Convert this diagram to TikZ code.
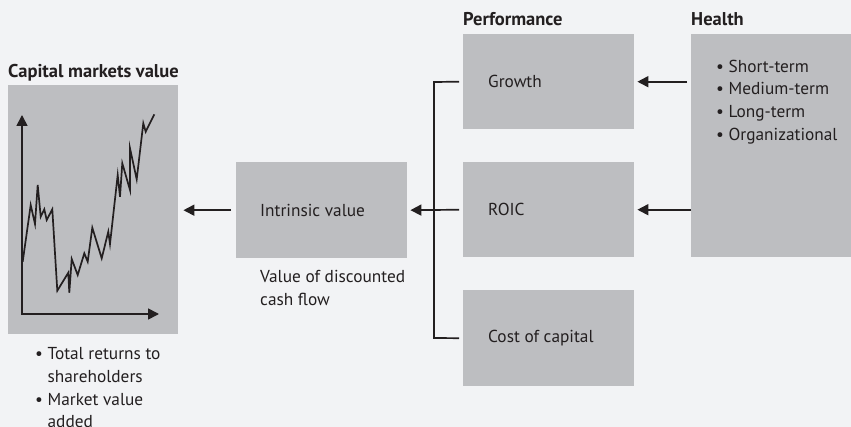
\documentclass[tikz,border=0pt]{standalone}
\usepackage{fontspec}
\setmainfont{PT Sans}
\usetikzlibrary{arrows.meta}
\definecolor{bgpaper}{HTML}{F2F3F5}
\definecolor{boxgray}{HTML}{BDBEC1}
\definecolor{inkdark}{HTML}{231F20}

\tikzset{
  box/.style={fill=boxgray, draw=none, anchor=north west, inner sep=0pt},
  boxtext/.style={anchor=west, inner sep=0pt, font=\fontsize{17.3}{22.7}\selectfont, text=inkdark},
  plain/.style={inner sep=0pt, font=\fontsize{17.3}{22.7}\selectfont, text=inkdark, align=left},
  heading/.style={anchor=base west, inner sep=0pt, font=\fontsize{18.5}{22}\selectfont\bfseries, text=inkdark},
  flow/.style={draw=inkdark, line width=1.7pt, -{Triangle[length=11pt,width=11pt]}},
}

\begin{document}
\begin{tikzpicture}[x=1pt, y=-1pt]
  \useasboundingbox[fill=bgpaper] (0,0) rectangle (851,427);
  % Boxes
  \node[box, minimum width=170pt, minimum height=249pt] (capital) at (8,85) {};
  \node[box, minimum width=171pt, minimum height=96pt] (intrinsic) at (236,162) {};
  \node[box, minimum width=171pt, minimum height=95pt] (growth) at (463,34) {};
  \node[box, minimum width=171pt, minimum height=95pt] (roic) at (463,162) {};
  \node[box, minimum width=171pt, minimum height=96pt] (cost) at (463,290) {};
  \node[box, minimum width=160pt, minimum height=223pt] (health) at (691,34) {};
  % Headings
  \node[heading] (capitalhead) at (8,78) {Capital markets value};
  \node[heading] (perfhead) at (463,26) {Performance};
  \node[heading] (healthhead) at (691,26) {Health};
  % Box texts
  \node[boxtext] (intrinsictext) at ([xshift=24pt]intrinsic.west) {Intrinsic value};
  \node[boxtext] (growthtext) at ([xshift=25pt]growth.west) {Growth};
  \node[boxtext] (roictext) at ([xshift=25pt]roic.west) {ROIC};
  \node[boxtext] (costtext) at ([xshift=25pt]cost.west) {Cost of capital};
  \node[plain, anchor=north west] (healthlist) at (716,59.5)
    {• Short-term\\• Medium-term\\• Long-term\\• Organizational};
  \node[plain, anchor=north west] (dcf) at (260,270.5)
    {Value of discounted\\cash flow};
  \node[plain, anchor=north west] (tsr) at (35,347.5)
    {• Total returns to\\\phantom{• }shareholders\\• Market value\\\phantom{• }added};
  % Arrows
  \draw[flow, shorten <=4pt, shorten >=3pt] (health.west |- growth.east) -- (growth.east);
  \draw[flow, shorten >=3pt] (health.west |- roic.east) -- (roic.east);
  \draw[flow, shorten <=4pt, shorten >=3pt] (roic.west) -- (intrinsic.east);
  \draw[flow, shorten <=5pt, shorten >=5pt] (intrinsic.west) -- (capital.east |- intrinsic.west);
  % Bracket joining the performance boxes
  \draw[draw=inkdark, line width=1.7pt] ([xshift=-4pt]growth.west) -- (434,82) -- (434,338) -- ([xshift=-4pt]cost.west);
  % Chart inside capital markets box
  \draw[draw=inkdark, line width=1.7pt, -{Triangle[length=11pt,width=11pt]}] (22,315) -- (22,115);
  \draw[draw=inkdark, line width=1.7pt, -{Triangle[length=11pt,width=11pt]}] (21.2,314) -- (159,314);
  \draw[draw=inkdark, line width=1.7pt, line join=miter]
    (22.7,261.7) -- (30.7,205) -- (35,224) -- (37.7,185) -- (40.7,216.7)
    -- (44.3,209.3) -- (46.7,220) -- (52.3,209.3) -- (57.3,290.7)
    -- (68.3,272.7) -- (69.3,292.7) -- (71.7,259) -- (77.7,275)
    -- (84.3,253.3) -- (87.7,261.7) -- (92.3,227.7) -- (101.7,258.3)
    -- (108.3,231.7) -- (110,244) -- (117.7,175) -- (120,196.7)
    -- (122.3,163.3) -- (130,190) -- (130,148.3) -- (136.7,179.3)
    -- (143.3,123.3) -- (145.7,131.7) -- (154.3,114.3);
\end{tikzpicture}
\end{document}
